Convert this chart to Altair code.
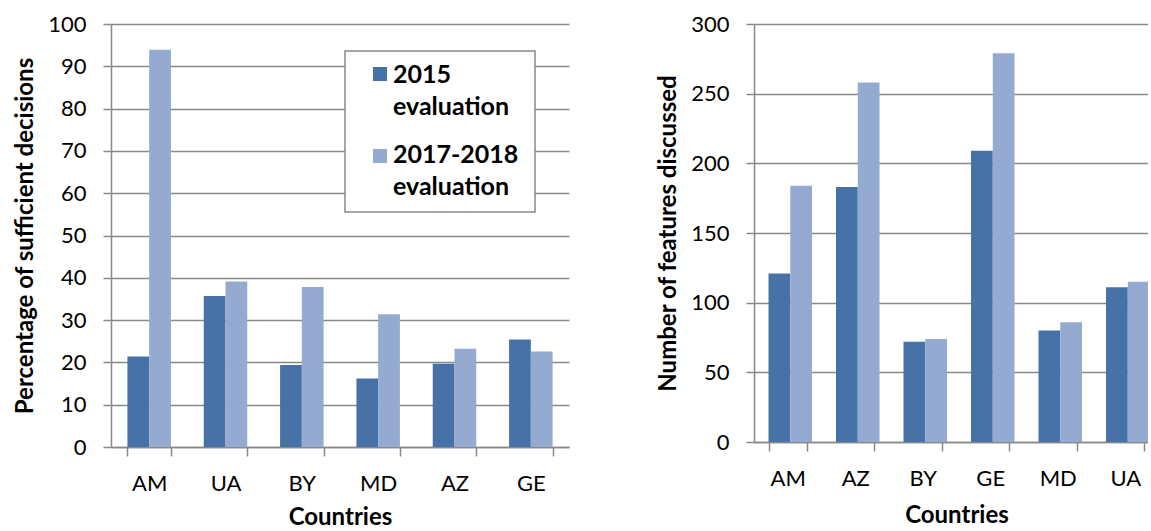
import altair as alt
import pandas as pd

# Two evaluation rounds compared per country
series = ["2015 evaluation", "2017-2018 evaluation"]
series_colors = ["#4672A7", "#95AAD1"]

# Left panel: percentage of sufficient decisions
pct_countries = ["AM", "UA", "BY", "MD", "AZ", "GE"]
pct_2015 = [21.4, 35.7, 19.4, 16.2, 19.7, 25.4]
pct_2017_2018 = [93.9, 39.1, 37.8, 31.4, 23.2, 22.6]
pct_ticks = [0, 10, 20, 30, 40, 50, 60, 70, 80, 90, 100]

# Right panel: number of features discussed
feat_countries = ["AM", "AZ", "BY", "GE", "MD", "UA"]
feat_2015 = [121, 183, 72, 209, 80, 111]
feat_2017_2018 = [184, 258, 74, 279, 86, 115]
feat_ticks = [0, 50, 100, 150, 200, 250, 300]

FONT = "Lato"
GRAY = "#898989"


def long_table(countries, first, second):
    rows = []
    for c, a, b in zip(countries, first, second):
        rows.append({"country": c, "series": series[0], "value": a})
        rows.append({"country": c, "series": series[1], "value": b})
    return pd.DataFrame(rows)


def bar_panel(df, countries, y_title, ticks, width, height, x_title_pad):
    return alt.Chart(df).mark_bar().encode(
        x=alt.X(
            "country:N",
            sort=countries,
            title="Countries",
            scale=alt.Scale(paddingInner=0.43, paddingOuter=0.215),
            axis=alt.Axis(labelAngle=0, titlePadding=x_title_pad),
        ),
        xOffset=alt.XOffset("series:N", sort=series),
        y=alt.Y(
            "value:Q",
            title=y_title,
            scale=alt.Scale(domain=[ticks[0], ticks[-1]], nice=False),
            axis=alt.Axis(values=ticks),
        ),
        color=alt.Color(
            "series:N",
            sort=series,
            scale=alt.Scale(domain=series, range=series_colors),
            legend=None,
        ),
    ).properties(width=width, height=height)


pct_bars = bar_panel(
    long_table(pct_countries, pct_2015, pct_2017_2018),
    pct_countries,
    "Percentage of sufficient decisions",
    pct_ticks,
    458,
    423,
    11,
)

# Boxed legend placed inside the left plot area
legend_layers = [
    alt.Chart(pd.DataFrame({"box": [0]}))
    .mark_rect(fill="white", stroke=GRAY, strokeWidth=1.5)
    .encode(x=alt.value(234), x2=alt.value(424), y=alt.value(27), y2=alt.value(188))
]
symbol_y = [50, 132]
text_y = [59, 139]
for name, col, sy, ty in zip(series, series_colors, symbol_y, text_y):
    one = pd.DataFrame({"series": [name]})
    legend_layers.append(
        alt.Chart(one)
        .mark_square(size=196, opacity=1, color=col)
        .encode(x=alt.value(269), y=alt.value(sy))
    )
    legend_layers.append(
        alt.Chart(one)
        .mark_text(
            align="left",
            baseline="alphabetic",
            lineBreak=" ",
            lineHeight=32,
            font=FONT,
            fontSize=25,
            fontWeight="bold",
            color="black",
        )
        .encode(x=alt.value(282), y=alt.value(ty), text="series:N")
    )

left = alt.layer(pct_bars, *legend_layers)

# The right panel runs slightly past the page edge and is cut there
right = bar_panel(
    long_table(feat_countries, feat_2015, feat_2017_2018),
    feat_countries,
    "Number of features discussed",
    feat_ticks,
    405,
    418,
    14,
)

chart = (
    alt.hconcat(left, right, spacing=87)
    .configure(padding={"left": 13, "top": 13, "right": -11, "bottom": 0}, font=FONT)
    .configure_view(stroke=None)
    .configure_axis(
        domainColor=GRAY,
        domainWidth=1.5,
        tickColor=GRAY,
        tickWidth=1.5,
        gridColor=GRAY,
        gridWidth=1.5,
        labelFont=FONT,
        labelFontSize=22,
        labelColor="black",
        titleFont=FONT,
        titleFontSize=24,
        titleFontWeight="bold",
        titleColor="black",
    )
    .configure_axisX(grid=False, tickBand="extent", tickSize=9, labelPadding=17)
    .configure_axisY(grid=True, tickSize=8, labelPadding=17, titlePadding=10)
)

chart.save("out.html", embed_options={"renderer": "svg", "actions": False})
